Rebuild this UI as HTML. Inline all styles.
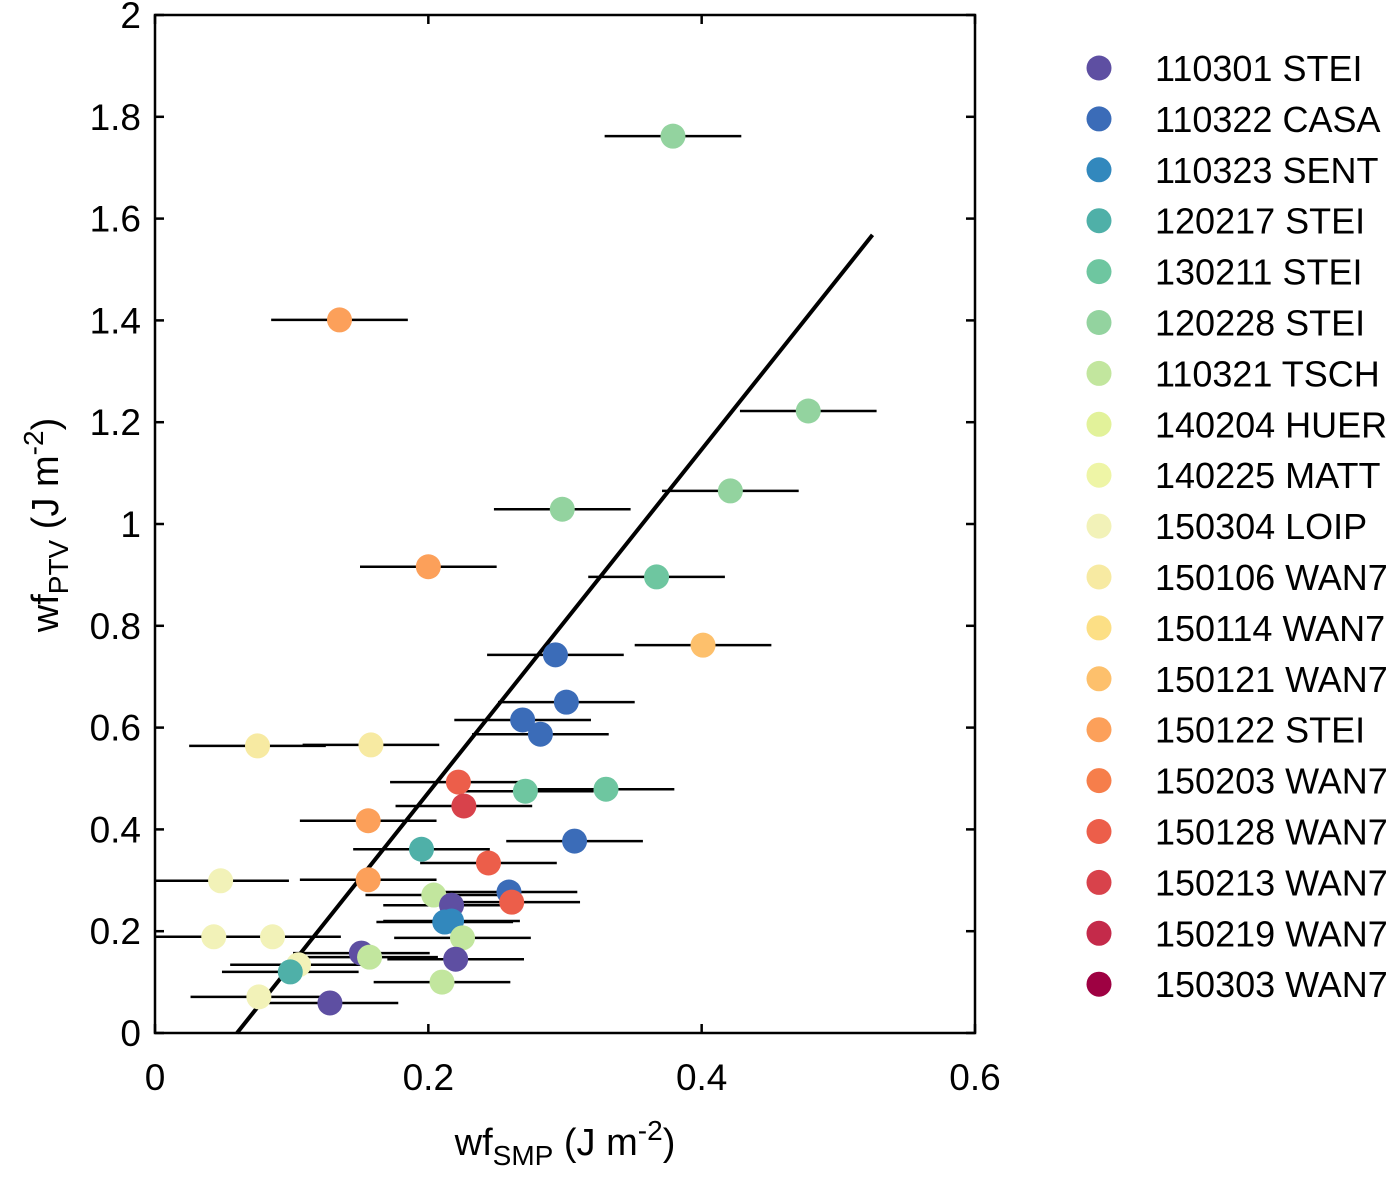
<!DOCTYPE html>
<html><head><meta charset="utf-8"><style>
html,body{margin:0;padding:0;background:#fff;}
svg{display:block;font-family:"Liberation Sans",Arial,sans-serif;}
</style></head><body>
<svg id="chart" width="1400" height="1180" viewBox="0 0 1400 1180" xmlns="http://www.w3.org/2000/svg">
<g id="bars"></g>
<g id="fit"></g>
<g id="pts"></g>
<rect x="155" y="15" width="820" height="1018" fill="none" stroke="#000" stroke-width="2.5"/>
<g id="axes"></g>
<g id="legend"></g>
<text x="565" y="1155" text-anchor="middle" font-size="38">wf<tspan font-size="28" dy="10">SMP</tspan><tspan dy="-10"> (J m</tspan><tspan font-size="28" dy="-15">-2</tspan><tspan dy="15">)</tspan></text>
<text transform="translate(58,525) rotate(-90)" text-anchor="middle" font-size="38">wf<tspan font-size="28" dy="10">PTV</tspan><tspan dy="-10"> (J m</tspan><tspan font-size="28" dy="-15">-2</tspan><tspan dy="15">)</tspan></text>
</svg>
<script>
const seriesNames=["110301 STEI","110322 CASA","110323 SENT","120217 STEI","130211 STEI","120228 STEI","110321 TSCH","140204 HUER","140225 MATT","150304 LOIP","150106 WAN7","150114 WAN7","150121 WAN7","150122 STEI","150203 WAN7","150128 WAN7","150213 WAN7","150219 WAN7","150303 WAN7"];
const seriesColors=["#5e4fa2","#3b6cb8","#3288bd","#4fb0a8","#6ec6a0","#93d39f","#c2e69e","#e2f29a","#eef5a6","#f2f2b8","#f7eaa2","#fcdf85","#fdc06c","#fca05a","#f67e4b","#ec5e4a","#d8424b","#c42a4a","#9e0142"];
const pointSeries=[5,13,5,5,5,13,4,12,1,1,1,1,10,10,15,4,4,16,13,1,3,15,9,13,6,0,1,15,2,2,6,9,9,0,6,0,9,3,6,9,0];
const xValues=[0.379,0.135,0.478,0.298,0.421,0.200,0.367,0.401,0.293,0.301,0.269,0.282,0.075,0.158,0.222,0.271,0.330,0.226,0.156,0.307,0.195,0.244,0.048,0.156,0.204,0.217,0.259,0.261,0.212,0.217,0.225,0.043,0.086,0.151,0.157,0.220,0.105,0.099,0.210,0.076,0.128];
const yValues=[1.762,1.401,1.222,1.029,1.065,0.916,0.896,0.762,0.743,0.650,0.615,0.587,0.564,0.566,0.493,0.475,0.479,0.446,0.417,0.377,0.361,0.334,0.299,0.301,0.271,0.251,0.277,0.257,0.218,0.220,0.187,0.189,0.189,0.157,0.149,0.145,0.134,0.120,0.100,0.071,0.059];
const xErr=[0.05,0.05,0.05,0.05,0.05,0.05,0.05,0.05,0.05,0.05,0.05,0.05,0.05,0.05,0.05,0.05,0.05,0.05,0.05,0.05,0.05,0.05,0.05,0.05,0.05,0.05,0.05,0.05,0.05,0.05,0.05,0.05,0.05,0.05,0.05,0.05,0.05,0.05,0.05,0.05,0.05];
const fitX=[0.06,0.525];
const fitY=[0,1.568];
const xTicks=[0,0.2,0.4,0.6];
const xTickLabels=["0","0.2","0.4","0.6"];
const yTicks=[0,0.2,0.4,0.6,0.8,1,1.2,1.4,1.6,1.8,2];
const yTickLabels=["0","0.2","0.4","0.6","0.8","1","1.2","1.4","1.6","1.8","2"];

const NS="http://www.w3.org/2000/svg";
const X0=155,X1=975,Y0=1033,Y1=15;
function sx(v){return X0+(v-0)/(0.6-0)*(X1-X0);}
function sy(v){return Y0-(v-0)/(2-0)*(Y0-Y1);}
function mk(tag,attrs,parent){const e=document.createElementNS(NS,tag);for(const k in attrs)e.setAttribute(k,attrs[k]);parent.appendChild(e);return e;}
const bars=document.getElementById('bars'),pts=document.getElementById('pts'),axes=document.getElementById('axes'),legend=document.getElementById('legend'),fit=document.getElementById('fit');
for(let i=0;i<xValues.length;i++){
  const l=mk('line',{x1:Math.max(X0,sx(xValues[i]-xErr[i])),x2:Math.min(X1,sx(xValues[i]+xErr[i])),y1:sy(yValues[i]),y2:sy(yValues[i]),stroke:'#000','stroke-width':2.5},bars);
  
  
}
const fl=mk('line',{x1:sx(fitX[0]),y1:sy(fitY[0]),x2:sx(fitX[1]),y2:sy(fitY[1]),stroke:'#000','stroke-width':4},fit);


for(let i=0;i<xValues.length;i++){
  const c=mk('circle',{cx:sx(xValues[i]),cy:sy(yValues[i]),r:12.5,fill:seriesColors[pointSeries[i]]},pts);
  
  
}
xTicks.forEach((t,i)=>{
  const x=sx(t);
  const a=mk('line',{x1:x,x2:x,y1:Y0,y2:Y0-9,stroke:'#000','stroke-width':2.5},axes);
  
  
  const b=mk('line',{x1:x,x2:x,y1:Y1,y2:Y1+9,stroke:'#000','stroke-width':2.5},axes);
  
  
  const tx=mk('text',{x:x,y:1090,'text-anchor':'middle','font-size':37},axes);
  tx.textContent=xTickLabels[i];
  
  
});
yTicks.forEach((t,i)=>{
  const y=sy(t);
  const a=mk('line',{x1:X0,x2:X0+9,y1:y,y2:y,stroke:'#000','stroke-width':2.5},axes);
  
  
  const b=mk('line',{x1:X1,x2:X1-9,y1:y,y2:y,stroke:'#000','stroke-width':2.5},axes);
  
  
  const tx=mk('text',{x:141,y:y+13,'text-anchor':'end','font-size':37},axes);
  tx.textContent=yTickLabels[i];
  
  
});
seriesNames.forEach((n,i)=>{
  const y=68+i*50.9;
  const g=mk('g',{},legend);
  
  
  mk('circle',{cx:1099,cy:y,r:12.5,fill:seriesColors[i]},g);
  const t=mk('text',{x:1155,y:y+13,'font-size':36},g);
  t.textContent=n;
});
</script>
</body></html>
